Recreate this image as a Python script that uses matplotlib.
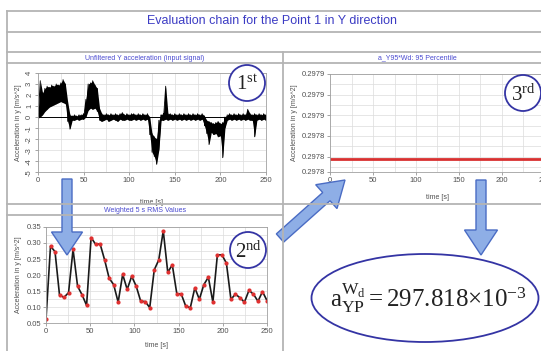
import numpy as np
import matplotlib
matplotlib.use("Agg")
import matplotlib.pyplot as plt
from matplotlib.patches import Ellipse, Circle, FancyArrow
from matplotlib.ticker import MultipleLocator, FormatStrFormatter

plt.rcParams['font.family'] = ['Liberation Sans', 'DejaVu Sans']
plt.rcParams['mathtext.fontset'] = 'custom'
plt.rcParams['mathtext.rm'] = 'Liberation Serif'
plt.rcParams['mathtext.it'] = 'Liberation Serif:italic'
plt.rcParams['axes.unicode_minus'] = False

# --- datos ---
# señal sin filtrar: envolvente (max / min) cada 2.5 s
t_sig = np.arange(0, 250.1, 2.5)
sig_hi = [0.3, 3.3, 2.2, 2.6, 2.8, 2.7, 2.9, 2.8, 3.0, 2.9,
          3.1, 3.4, 3.0, 1.4, 0.2, 0.1, 0.2, 0.1, 0.2, 0.2,
          0.3, 1.6, 3.0, 3.1, 3.3, 2.9, 2.6, 0.8, 0.3, 0.2,
          0.3, 0.2, 0.3, 0.2, 0.3, 0.2, 0.3, 0.4, 0.2, 0.3,
          0.2, 0.3, 0.3, 0.2, 0.3, 0.2, 0.3, 0.2, 0.3, 0.0,
          -1.5, -1.8, -2.0, -0.3, 0.2, 0.3, 2.8, 0.3, 0.3, 0.2,
          0.3, 0.2, 0.3, 0.2, 0.3, 0.2, 0.3, 0.2, 0.3, 0.2,
          0.3, 0.2, 0.3, 0.1, -0.3, -0.4, -0.5, -0.6, -0.5, -0.4,
          -0.6, -0.5, 0.0, 0.2, 0.3, 0.2, 0.3, 0.2, 0.3, 0.2,
          0.3, 0.2, 0.7, 0.3, 0.2, 0.3, 0.2, 0.3, 0.2, 0.3,
          0.2]
sig_lo = [-0.1, 0.0, 0.2, 0.5, 0.7, 0.9, 1.0, 1.1, 1.2, 1.3,
          1.4, 1.3, 1.2, -0.4, -1.1, -0.3, -0.3, -0.2, -0.3, -0.2,
          -0.2, 0.0, 0.6, 0.8, 0.7, 0.8, 0.5, -0.3, -0.4, -0.3,
          -0.2, -0.4, -0.3, -0.2, -0.3, -0.4, -0.2, -0.3, -0.3, -0.2,
          -0.3, -0.3, -0.2, -0.3, -0.2, -0.3, -0.2, -0.3, -0.2, -1.6,
          -3.2, -3.6, -4.3, -3.0, -0.3, -0.3, -0.2, -0.3, -0.2, -0.3,
          -0.2, -0.3, -0.2, -0.3, -0.2, -0.3, -0.2, -0.3, -0.2, -0.3,
          -0.2, -0.3, -0.2, -0.8, -1.5, -2.5, -1.4, -1.6, -1.5, -1.8,
          -1.7, -3.7, -1.0, -0.3, -0.2, -0.3, -0.2, -0.3, -0.2, -0.3,
          -0.2, -0.3, -0.2, -0.3, -0.3, -1.8, -0.3, -0.2, -0.3, -0.2,
          -0.3]

# valores RMS ponderados de 5 s
rms_vals = [0.062, 0.290, 0.273, 0.137, 0.130, 0.145, 0.280, 0.165, 0.138, 0.105,
            0.317, 0.296, 0.297, 0.247, 0.190, 0.170, 0.115, 0.202, 0.155, 0.196,
            0.165, 0.118, 0.117, 0.098, 0.216, 0.247, 0.338, 0.208, 0.232, 0.142,
            0.140, 0.102, 0.098, 0.160, 0.124, 0.170, 0.193, 0.115, 0.263, 0.263,
            0.237, 0.124, 0.140, 0.129, 0.115, 0.152, 0.140, 0.118, 0.148, 0.120]
rms_t = np.linspace(0, 250, len(rms_vals))

# percentil 95
a_wd = 297.818e-3
y3_ticks = [0.297805, 0.29782, 0.29784, 0.29786, 0.29788, 0.29790]

W, H = 541, 351
fig = plt.figure(figsize=(W / 100, H / 100), dpi=100)

txt_col = '#505050'
grid_col = '#dcdcdc'


def axes_px(x0, x1, y0, y1):
    # ejes a partir de coordenadas en pixeles (origen arriba a la izquierda)
    return fig.add_axes([x0 / W, 1 - y1 / H, (x1 - x0) / W, (y1 - y0) / H])


def estilo(ax, xpad):
    ax.set_xlim(0, 250)
    ax.xaxis.set_major_locator(MultipleLocator(50))
    ax.xaxis.set_minor_locator(MultipleLocator(25))
    ax.grid(True, which='both', color=grid_col, lw=0.5)
    ax.set_axisbelow(True)
    ax.tick_params(which='major', direction='out', length=2, width=0.5,
                   color='#808080', labelsize=5.5, labelcolor=txt_col, pad=1.5)
    ax.tick_params(which='minor', length=0)
    for s in ax.spines.values():
        s.set_color('#a0a0a0')
        s.set_linewidth(0.6)
    ax.set_xlabel('time [s]', fontsize=5, color=txt_col, labelpad=xpad)
    ax.set_ylabel('Acceleration in y [m/s^2]', fontsize=5, color=txt_col, labelpad=3)


# 1) señal sin filtrar
ax1 = axes_px(38, 266, 73, 172)
estilo(ax1, 11)
ax1.set_ylim(-5, 4)
ax1.yaxis.set_major_locator(MultipleLocator(1))
ax1.tick_params(axis='y', labelrotation=90)
ax1.axhline(0, color='black', lw=0.7)
ax1.fill_between(t_sig, sig_lo, sig_hi, color='black', lw=0)
zz_t = np.repeat(t_sig, 2)
zz_y = np.column_stack([sig_hi, sig_lo]).ravel()
ax1.plot(zz_t, zz_y, color='black', lw=0.6)

# 2) RMS 5 s
ax2 = axes_px(46, 267, 227, 323)
estilo(ax2, 5)
ax2.set_ylim(0.05, 0.35)
ax2.yaxis.set_major_locator(MultipleLocator(0.05))
ax2.yaxis.set_minor_locator(MultipleLocator(0.025))
ax2.yaxis.set_major_formatter(FormatStrFormatter('%.2f'))
ax2.plot(rms_t, rms_vals, color='#1a1a1a', lw=1.2, marker='o', ms=2,
         mfc='#e03030', mec='#e03030')

# 3) percentil 95
ax3 = axes_px(330, 545, 74, 172)
estilo(ax3, 7)
ax3.set_ylim(y3_ticks[0], y3_ticks[-1])
ax3.set_yticks(y3_ticks)
ax3.yaxis.set_minor_locator(MultipleLocator(0.00001))
ax3.yaxis.set_major_formatter(FormatStrFormatter('%.4f'))
ax3.axhline(a_wd, color='#d83030', lw=2)

# --- capa superior: tabla, flechas y anotaciones ---
ov = fig.add_axes([0, 0, 1, 1], zorder=10)
ov.set_xlim(0, W)
ov.set_ylim(H, 0)
ov.axis('off')
ov.patch.set_alpha(0)

line_col = '#b4b4b4'
for y in [11, 32, 52, 63, 204]:
    ov.plot([7, W], [y, y], color=line_col, lw=1.3)
ov.plot([7, 283], [215, 215], color=line_col, lw=1.3)
ov.plot([7, 7], [11, H], color=line_col, lw=1.3)
ov.plot([283, 283], [52, H], color=line_col, lw=1.3)

ov.text(272, 21.5, 'Evaluation chain for the Point 1 in Y direction',
        ha='center', va='center', color='#3c3cc4', fontsize=9)
hdr = dict(ha='center', va='center', color='#4a4ad0', fontsize=5)
ov.text(145, 58, 'Unfiltered Y acceleration (input signal)', **hdr)
ov.text(417, 58, 'a_Y95*Wd: 95 Percentile', **hdr)
ov.text(145, 210, 'Weighted 5 s RMS Values', **hdr)

circ = dict(fc='white', ec='#3434a4', lw=1.3)
for (cx, cy), lab in [((247, 83), r'$\mathrm{1^{st}}$'),
                      ((248, 250), r'$\mathrm{2^{nd}}$'),
                      ((523, 93), r'$\mathrm{3^{rd}}$')]:
    ov.add_patch(Circle((cx, cy), 18, **circ))
    ov.text(cx, cy + 1, lab, ha='center', va='center', fontsize=15, color='#222222')

arr = dict(fc='#8eaee6', ec='#4a6cc4', lw=1, length_includes_head=True)
ov.add_patch(FancyArrow(67, 179, 0, 76, width=10, head_width=31, head_length=23, **arr))
ov.add_patch(FancyArrow(280, 238, 65, -58, width=11, head_width=32, head_length=25, **arr))
ov.add_patch(FancyArrow(481, 180, 0, 75, width=10, head_width=33, head_length=25, **arr))

ov.add_patch(Ellipse((425, 298), 227, 88, fc='white', ec='#3434a4', lw=1.3))
ov.text(428, 298, r'$\mathrm{a_{YP}^{W_d} = %.3f{\times}10^{-3}}$' % (a_wd * 1e3),
        ha='center', va='center', fontsize=18, color='#222222')

fig.savefig('out.png', dpi=100)
